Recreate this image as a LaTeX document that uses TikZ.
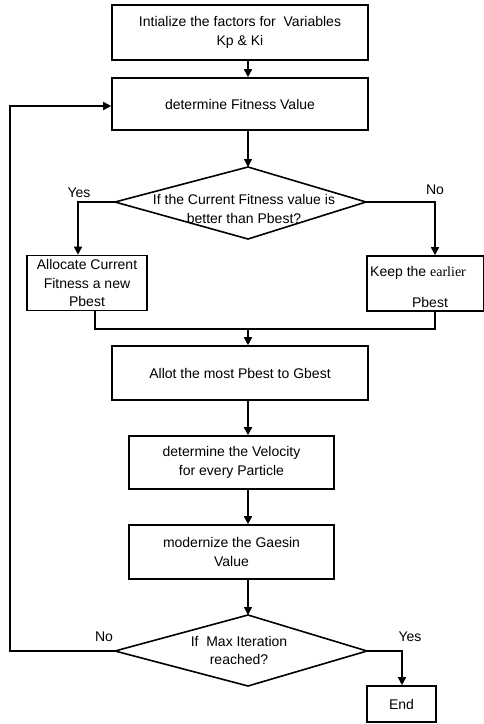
\documentclass[tikz,border=0pt]{standalone}
\usepackage{fontspec}
\setmainfont{Liberation Sans}
\newfontfamily\serifface{Liberation Serif}
\usetikzlibrary{arrows.meta}
\begin{document}
\begin{tikzpicture}[x=1pt,y=-1pt,
  every node/.style={font=\fontsize{14}{18.5}\selectfont},
  box/.style={draw,line width=1.6pt,inner sep=0pt,align=center},
  diapath/.style={draw,line width=1.6pt,line join=miter},
  txt/.style={inner sep=0pt,align=center},
  conn/.style={line width=1.6pt},
  arr/.style={line width=1.6pt,-{Triangle[length=8pt,width=8pt]}}]
\useasboundingbox (0,0) rectangle (483,724);
% boxes
\node[box,minimum width=256,minimum height=55] (init) at (240,32.5) {Intialize the factors for~~Variables\\Kp \& Ki};
\node[box,minimum width=256,minimum height=52] (fit) at (240,104) {determine Fitness Value};
% decision 1
\coordinate (d1n) at (248,167);
\coordinate (d1w) at (115,202);
\coordinate (d1e) at (366,202);
\coordinate (d1s) at (248,239);
\draw[diapath] (d1n) -- (d1e) -- (d1s) -- (d1w) -- cycle;
\node[txt] (d1t) at (244,209) {If the Current Fitness value is\\better than Pbest?};
\node[box,minimum width=120,minimum height=55] (yesb) at (87,283) {Allocate Current\\Fitness a new\\Pbest};
\node[box,minimum width=117,minimum height=55] (nob) at (425.5,283.5) {};
\node[txt,anchor=base west] (noba) at (370,276) {Keep the {\serifface earlier}};
\node[txt,anchor=base] (nobb) at (430,307) {Pbest};
\node[box,minimum width=256,minimum height=54] (allot) at (240,373) {Allot the most Pbest to Gbest};
\node[box,minimum width=205,minimum height=53] (vel) at (231.5,462.5) {determine the Velocity\\for every Particle};
\node[box,minimum width=205,minimum height=54] (mod) at (231.5,552) {modernize the Gaesin\\Value};
% decision 2
\coordinate (d2n) at (248,615);
\coordinate (d2w) at (115,651);
\coordinate (d2e) at (367,651);
\coordinate (d2s) at (248,686);
\draw[diapath] (d2n) -- (d2e) -- (d2s) -- (d2w) -- cycle;
\node[txt] (d2t) at (239,650.5) {If~~Max Iteration\\reached?};
\node[box,minimum width=69,minimum height=36] (endb) at (401.5,704) {End};
% labels
\node[txt] (lyes1) at (79,193) {Yes};
\node[txt] (lno1) at (435,190) {No};
\node[txt] (lno2) at (104,637) {No};
\node[txt] (lyes2) at (410,637) {Yes};
% connectors
\coordinate (merge) at (248,329);
\coordinate (loop) at (10,651);
\draw[arr] (init.south -| 248,0) -- (fit.north -| 248,0);
\draw[arr] (fit.south -| 248,0) -- (d1n);
\draw[arr] (d1w) -| (yesb.north -| 78,0);
\draw[arr] (d1e) -| (nob.north -| 435,0);
\draw[conn] (yesb.south -| 95,0) |- (merge) -| (nob.south -| 435,0);
\draw[arr] (merge) -- (allot.north -| 248,0);
\draw[arr] (allot.south -| 248,0) -- (vel.north -| 248,0);
\draw[arr] (vel.south -| 248,0) -- (mod.north -| 248,0);
\draw[arr] (mod.south -| 248,0) -- (d2n);
\draw[arr] (d2w) -- (loop) |- (fit.west |- 0,106);
\draw[arr] (d2e) -| (endb.north -| 402,0);
\end{tikzpicture}
\end{document}
